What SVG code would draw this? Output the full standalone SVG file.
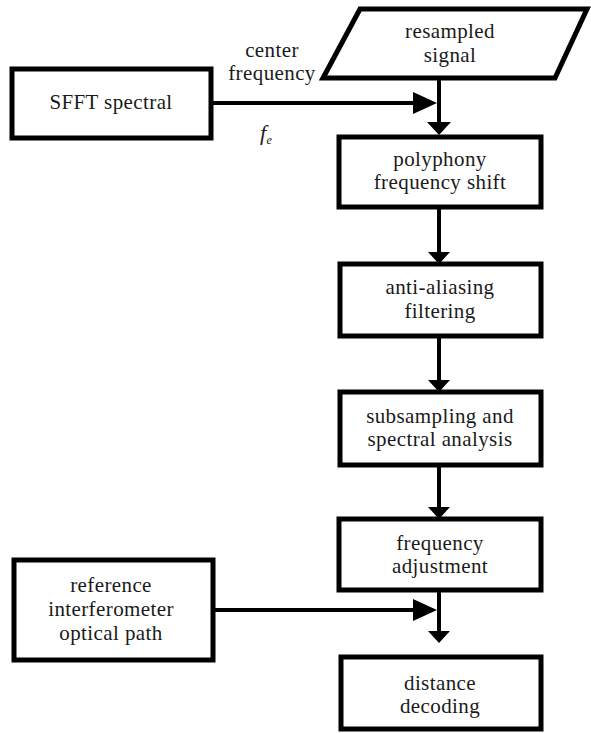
<svg xmlns="http://www.w3.org/2000/svg" width="591" height="733" viewBox="0 0 591 733">
<style>
.box{fill:#fff;stroke:#000;stroke-width:5}
.ln{stroke:#000;stroke-width:4;fill:none}
.ah{fill:#000}
text{font-family:"Liberation Serif","Times New Roman",serif;font-size:21px;letter-spacing:0.4px;fill:#1a1a1a;text-anchor:middle}
</style>
<rect width="591" height="733" fill="#fff"/>
<g id="connectors">
<line class="ln" x1="439" y1="78" x2="439" y2="123"/>
<polygon class="ah" points="427,122 451,122 439,135"/>
<line class="ln" x1="211" y1="103" x2="414" y2="103"/>
<polygon class="ah" points="413,92 413,114 437,103"/>
<line class="ln" x1="439" y1="207" x2="439" y2="253"/>
<polygon class="ah" points="428,252 450,252 439,264"/>
<line class="ln" x1="439" y1="336" x2="439" y2="381"/>
<polygon class="ah" points="428,380 450,380 439,392"/>
<line class="ln" x1="439" y1="465" x2="439" y2="508"/>
<polygon class="ah" points="428,507 450,507 439,519"/>
<line class="ln" x1="439" y1="590" x2="439" y2="632"/>
<polygon class="ah" points="428,631 450,631 439,643"/>
<line class="ln" x1="213" y1="610" x2="414" y2="610"/>
<polygon class="ah" points="413,599 413,621 437,610"/>
</g>
<g id="label-center-frequency">
<text x="272" y="57">center</text>
<text x="272" y="80">frequency</text>
<text x="266" y="140" style="font-style:italic;font-size:22px">f<tspan dx="0" dy="4" style="font-size:12px">e</tspan></text>
</g>
<g id="sfft">
<rect class="box" x="12" y="69" width="199" height="69"/>
<text x="111" y="109">SFFT spectral</text>
</g>
<g id="resampled">
<polygon class="box" points="360,9 587,9 555,78 323,78"/>
<text x="450" y="38">resampled</text>
<text x="450" y="62">signal</text>
</g>
<g id="polyphony">
<rect class="box" x="339" y="137" width="202" height="70"/>
<text x="440" y="166">polyphony</text>
<text x="440" y="189">frequency shift</text>
</g>
<g id="antialiasing">
<rect class="box" x="340" y="264" width="201" height="72"/>
<text x="440" y="294">anti-aliasing</text>
<text x="440" y="318">filtering</text>
</g>
<g id="subsampling">
<rect class="box" x="340" y="392" width="201" height="73"/>
<text x="440" y="423">subsampling and</text>
<text x="440" y="446">spectral analysis</text>
</g>
<g id="freqadj">
<rect class="box" x="339" y="519" width="202" height="71"/>
<text x="440" y="550">frequency</text>
<text x="440" y="573">adjustment</text>
</g>
<g id="reference">
<rect class="box" x="14" y="560" width="199" height="100"/>
<text x="111" y="592">reference</text>
<text x="111" y="616">interferometer</text>
<text x="111" y="640">optical path</text>
</g>
<g id="distance">
<rect class="box" x="341" y="657" width="200" height="72"/>
<text x="440" y="690">distance</text>
<text x="440" y="713">decoding</text>
</g>
</svg>
